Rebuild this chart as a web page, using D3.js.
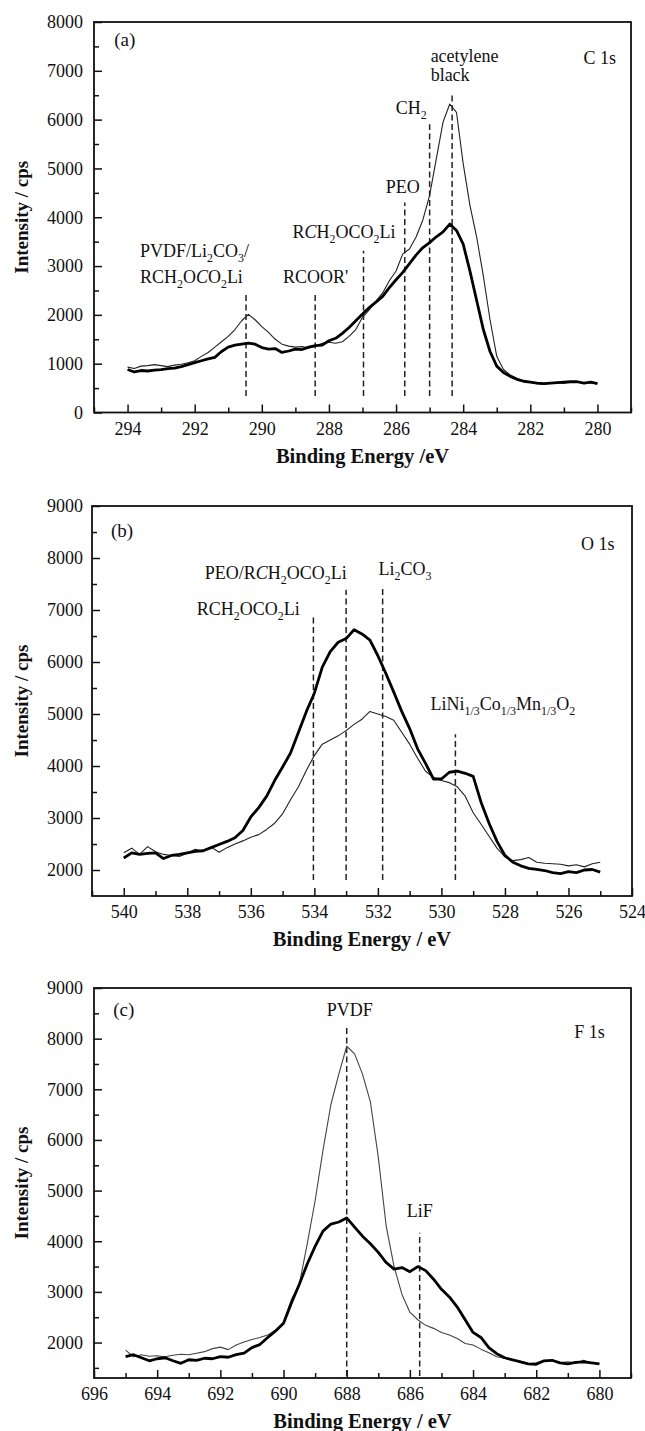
<!DOCTYPE html>
<html>
<head>
<meta charset="utf-8">
<script src="https://cdn.jsdelivr.net/npm/d3@7"></script>
<style>
  html, body { margin: 0; padding: 0; background: #fff; }
  svg { display: block; }
  text { font-family: "Liberation Serif", "Times New Roman", serif; fill: #111; }
</style>
</head>
<body>
<svg id="fig" width="645" height="1431"></svg>
<script>
// ---------- C 1s spectra ----------
const c1sEnergy = [294.0, 293.8, 293.6, 293.4, 293.2, 293.0, 292.8, 292.6, 292.4, 292.2,
  292.0, 291.8, 291.6, 291.4, 291.2, 291.0, 290.8, 290.6, 290.4, 290.2,
  290.0, 289.8, 289.6, 289.4, 289.2, 289.0, 288.8, 288.6, 288.4, 288.2,
  288.0, 287.8, 287.6, 287.4, 287.2, 287.0, 286.8, 286.6, 286.4, 286.2,
  286.0, 285.8, 285.6, 285.4, 285.2, 285.0, 284.8, 284.6, 284.4, 284.2,
  284.0, 283.8, 283.6, 283.4, 283.2, 283.0, 282.8, 282.6, 282.4, 282.2,
  282.0, 281.8, 281.6, 281.4, 281.2, 281.0, 280.8, 280.6, 280.4, 280.2, 280.0];
const c1sLight = [930, 900, 950, 960, 980, 960, 940, 970, 990, 1020,
  1060, 1150, 1230, 1340, 1450, 1560, 1700, 1880, 2010, 1900,
  1760, 1640, 1500, 1400, 1360, 1340, 1350, 1320, 1360, 1420,
  1440, 1420, 1450, 1560, 1700, 1950, 2100, 2280, 2450, 2700,
  2900, 3250, 3350, 3600, 3950, 4450, 5200, 5950, 6320, 6150,
  5100, 4250, 3600, 2800, 1900, 1150, 880, 770, 700, 650,
  620, 590, 580, 600, 620, 600, 630, 620, 600, 610, 600];
const c1sBold = [880, 830, 860, 850, 870, 880, 900, 910, 940, 980,
  1020, 1060, 1100, 1130, 1250, 1340, 1380, 1400, 1420, 1400,
  1330, 1300, 1310, 1230, 1260, 1300, 1290, 1340, 1370, 1380,
  1470, 1520, 1620, 1740, 1880, 2020, 2150, 2260, 2380, 2560,
  2720, 2870, 3050, 3230, 3380, 3480, 3600, 3700, 3860, 3730,
  3450, 2900, 2300, 1700, 1250, 950, 820, 740, 680, 640,
  620, 600, 590, 600, 610, 620, 630, 630, 600, 620, 590];
const c1sMajorTicks = [294, 292, 290, 288, 286, 284, 282, 280];
const c1sYTicks = [0, 1000, 2000, 3000, 4000, 5000, 6000, 7000, 8000];
// peak assignments: energy, top of marker (cps)
const c1sPeaks = [[290.47, 2430], [288.41, 2460], [286.97, 3316], [285.74, 4300], [285.0, 5904], [284.33, 6530]];

// ---------- O 1s spectra ----------
const o1sEnergy = [540.00, 539.75, 539.50, 539.25, 539.00, 538.75, 538.50, 538.25, 538.00, 537.75,
  537.50, 537.25, 537.00, 536.75, 536.50, 536.25, 536.00, 535.75, 535.50, 535.25,
  535.00, 534.75, 534.50, 534.25, 534.00, 533.75, 533.50, 533.25, 533.00, 532.75,
  532.50, 532.25, 532.00, 531.75, 531.50, 531.25, 531.00, 530.75, 530.50, 530.25,
  530.00, 529.75, 529.50, 529.25, 529.00, 528.75, 528.50, 528.25, 528.00, 527.75,
  527.50, 527.25, 527.00, 526.75, 526.50, 526.25, 526.00, 525.75, 525.50, 525.25, 525.00];
const o1sLight = [2330, 2420, 2300, 2450, 2350, 2300, 2280, 2260, 2320, 2400,
  2360, 2440, 2340, 2430, 2500, 2560, 2630, 2680, 2780, 2900,
  3080, 3350, 3600, 3920, 4200, 4420, 4500, 4580, 4680, 4800,
  4900, 5050, 5000, 4950, 4880, 4650, 4420, 4150, 3900, 3780,
  3720, 3680, 3600, 3420, 3100, 2880, 2650, 2420, 2250, 2180,
  2200, 2240, 2150, 2130, 2120, 2110, 2080, 2100, 2060, 2120, 2150];
const o1sBold = [2230, 2330, 2300, 2320, 2330, 2220, 2280, 2300, 2330, 2360,
  2370, 2430, 2490, 2550, 2620, 2760, 3020, 3200, 3420, 3720,
  3980, 4250, 4650, 5050, 5400, 5900, 6200, 6380, 6450, 6620,
  6540, 6420, 6120, 5780, 5420, 5050, 4720, 4330, 4050, 3750,
  3750, 3880, 3900, 3860, 3800, 3300, 2900, 2550, 2280, 2150,
  2080, 2030, 2010, 1990, 1950, 1930, 1970, 1950, 2000, 2010, 1960];
const o1sMajorTicks = [540, 538, 536, 534, 532, 530, 528, 526, 524];
const o1sYTicks = [2000, 3000, 4000, 5000, 6000, 7000, 8000, 9000];
const o1sPeaks = [[534.03, 6876], [533.0, 7391], [531.85, 7423], [529.56, 4609]];

// ---------- F 1s spectra ----------
const f1sEnergy = [695.00, 694.75, 694.50, 694.25, 694.00, 693.75, 693.50, 693.25, 693.00, 692.75,
  692.50, 692.25, 692.00, 691.75, 691.50, 691.25, 691.00, 690.75, 690.50, 690.25,
  690.00, 689.75, 689.50, 689.25, 689.00, 688.75, 688.50, 688.25, 688.00, 687.75,
  687.50, 687.25, 687.00, 686.75, 686.50, 686.25, 686.00, 685.75, 685.50, 685.25,
  685.00, 684.75, 684.50, 684.25, 684.00, 683.75, 683.50, 683.25, 683.00, 682.75,
  682.50, 682.25, 682.00, 681.75, 681.50, 681.25, 681.00, 680.75, 680.50, 680.25, 680.00];
const f1sLight = [1850, 1720, 1760, 1730, 1740, 1720, 1750, 1770, 1760, 1790,
  1820, 1880, 1910, 1860, 1950, 2010, 2060, 2100, 2150, 2245,
  2400, 2850, 3150, 3950, 4800, 5800, 6700, 7300, 7850, 7700,
  7300, 6750, 5660, 4300, 3500, 2950, 2600, 2450, 2340, 2280,
  2200, 2150, 2080, 1980, 1950, 1870, 1800, 1720, 1690, 1640,
  1630, 1580, 1600, 1650, 1640, 1600, 1620, 1590, 1650, 1600, 1580];
const f1sBold = [1720, 1760, 1700, 1640, 1680, 1700, 1640, 1590, 1660, 1650,
  1690, 1680, 1720, 1710, 1760, 1790, 1900, 1960, 2100, 2230,
  2380, 2780, 3150, 3550, 3900, 4200, 4340, 4380, 4460, 4280,
  4100, 3950, 3780, 3580, 3450, 3480, 3400, 3500, 3420, 3250,
  3050, 2900, 2700, 2450, 2200, 2100, 1900, 1780, 1700, 1660,
  1620, 1580, 1570, 1640, 1650, 1600, 1580, 1610, 1620, 1600, 1580];
const f1sMajorTicks = [696, 694, 692, 690, 688, 686, 684, 682, 680];
const f1sYTicks = [2000, 3000, 4000, 5000, 6000, 7000, 8000, 9000];
const f1sPeaks = [[688.0, 8273], [685.69, 4166]];

// ---------- layout ----------
const svg = d3.select('#fig');
const LABEL_SIZE = 18;

// simple markup: _{..} subscript, *..* italic
function richText(sel, str, size) {
  const parts = str.split(/(_\{[^}]*\}|\*[^*]*\*)/).filter(s => s.length);
  let shift = 0;
  const drop = size * 0.3;
  parts.forEach(p => {
    const t = sel.append('tspan');
    if (p.startsWith('_{')) {
      t.text(p.slice(2, -1)).attr('font-size', size * 0.66).attr('dy', drop - shift);
      shift = drop;
    } else {
      let txt = p, italic = false;
      if (p.length > 1 && p.startsWith('*') && p.endsWith('*')) { txt = p.slice(1, -1); italic = true; }
      t.text(txt).attr('dy', -shift);
      shift = 0;
      if (italic) t.attr('font-style', 'italic');
    }
  });
}

function drawPanel(cfg) {
  const x = d3.scaleLinear().domain(cfg.xDomain).range([cfg.left, cfg.right]);
  const y = d3.scaleLinear().domain(cfg.yDomain).range([cfg.bottom, cfg.top]);
  const g = svg.append('g');

  const xMinor = d3.range(Math.ceil(Math.min(...cfg.xDomain)), Math.floor(Math.max(...cfg.xDomain)) + 1)
    .filter(v => !cfg.xMajor.includes(v));
  const yMinor = d3.range(Math.ceil(cfg.yDomain[0] / 500) * 500, cfg.yDomain[1] + 1, 500)
    .filter(v => !cfg.yMajor.includes(v) && v > cfg.yDomain[0]);

  const styleAxis = a => {
    a.select('.domain').remove();
    a.selectAll('line').attr('stroke', '#111').attr('stroke-width', 1.5);
    a.selectAll('text').attr('font-size', LABEL_SIZE).attr('fill', '#111')
      .attr('font-family', '"Liberation Serif","Times New Roman",serif');
  };

  g.append('g').attr('transform', `translate(0,${cfg.bottom})`)
    .call(d3.axisBottom(x).tickValues(xMinor).tickSize(-5).tickFormat(''))
    .call(styleAxis);
  g.append('g').attr('transform', `translate(0,${cfg.bottom})`)
    .call(d3.axisBottom(x).tickValues(cfg.xMajor).tickSize(-8).tickPadding(9.5).tickFormat(d3.format('d')))
    .call(styleAxis);
  g.append('g').attr('transform', `translate(${cfg.left},0)`)
    .call(d3.axisLeft(y).tickValues(yMinor).tickSize(-5).tickFormat(''))
    .call(styleAxis);
  g.append('g').attr('transform', `translate(${cfg.left},0)`)
    .call(d3.axisLeft(y).tickValues(cfg.yMajor).tickSize(-8).tickPadding(cfg.left - 83).tickFormat(d3.format('d')))
    .call(styleAxis);

  // peak marker lines
  g.append('g').selectAll('line').data(cfg.peaks).join('line')
    .attr('x1', d => x(d[0])).attr('x2', d => x(d[0]))
    .attr('y1', y(cfg.markerBase)).attr('y2', d => y(d[1]))
    .attr('stroke', '#222').attr('stroke-width', 1.5).attr('stroke-dasharray', '6,3.5');

  // spectra
  const line = d3.line().x(d => x(d[0])).y(d => y(d[1]));
  const lightPts = cfg.energy.map((e, i) => [e, cfg.light[i]]);
  const boldPts = cfg.energy.map((e, i) => [e, cfg.bold[i]]);
  g.append('path').datum(lightPts).attr('d', line)
    .attr('fill', 'none').attr('stroke', cfg.lightColor).attr('stroke-width', 1.1).attr('stroke-linejoin', 'round');
  g.append('path').datum(boldPts).attr('d', line)
    .attr('fill', 'none').attr('stroke', '#000').attr('stroke-width', 2.8).attr('stroke-linejoin', 'round');

  // frame
  g.append('rect').attr('x', cfg.left).attr('y', cfg.top)
    .attr('width', cfg.right - cfg.left).attr('height', cfg.bottom - cfg.top)
    .attr('fill', 'none').attr('stroke', '#111').attr('stroke-width', 1.8);

  // annotations
  cfg.labels.forEach(l => {
    const t = g.append('text')
      .attr('x', x(l.e)).attr('y', l.py)
      .attr('text-anchor', l.anchor || 'middle')
      .attr('font-size', l.size || LABEL_SIZE);
    richText(t, l.text, l.size || LABEL_SIZE);
  });

  // axis titles
  g.append('text').attr('x', (cfg.left + cfg.right) / 2).attr('y', cfg.bottom + 50)
    .attr('text-anchor', 'middle').attr('font-size', 20.5).attr('font-weight', 'bold')
    .text(cfg.xTitle);
  g.append('text')
    .attr('transform', `translate(28,${(cfg.top + cfg.bottom) / 2}) rotate(-90)`)
    .attr('text-anchor', 'middle').attr('font-size', 19).attr('font-weight', 'bold')
    .text('Intensity / cps');
}

drawPanel({
  left: 94, right: 631, top: 22, bottom: 412.5,
  xDomain: [295, 279], yDomain: [0, 8000],
  xMajor: c1sMajorTicks, yMajor: c1sYTicks,
  energy: c1sEnergy, light: c1sLight, bold: c1sBold, lightColor: '#222',
  peaks: c1sPeaks, markerBase: 340,
  xTitle: 'Binding Energy /eV',
  labels: [
    { e: 294.4, py: 46, anchor: 'start', text: '(a)', size: 19 },
    { e: 279.45, py: 64, anchor: 'end', text: 'C 1s' },
    { e: 284.97, py: 62, anchor: 'start', text: 'acetylene' },
    { e: 284.97, py: 81, anchor: 'start', text: 'black' },
    { e: 285.55, py: 114, text: 'CH_{2}' },
    { e: 285.8, py: 193, text: 'PEO' },
    { e: 287.55, py: 238, text: 'R*C*H_{2}OCO_{2}Li' },
    { e: 293.63, py: 257, anchor: 'start', text: 'PVDF/Li_{2}CO_{3}/' },
    { e: 293.63, py: 283, anchor: 'start', text: 'RCH_{2}O*C*O_{2}Li' },
    { e: 288.4, py: 283, text: "RCOOR'" }
  ]
});

drawPanel({
  left: 92, right: 632, top: 506, bottom: 896,
  xDomain: [541, 524], yDomain: [1500, 9000],
  xMajor: o1sMajorTicks, yMajor: o1sYTicks,
  energy: o1sEnergy, light: o1sLight, bold: o1sBold, lightColor: '#222',
  peaks: o1sPeaks, markerBase: 1810,
  xTitle: 'Binding Energy / eV',
  labels: [
    { e: 540.4, py: 537, anchor: 'start', text: '(b)', size: 19 },
    { e: 524.55, py: 550, anchor: 'end', text: 'O 1s' },
    { e: 537.45, py: 579, anchor: 'start', text: 'PEO/R*C*H_{2}OCO_{2}Li' },
    { e: 531.98, py: 575, anchor: 'start', text: 'Li_{2}CO_{3}' },
    { e: 537.7, py: 615, anchor: 'start', text: 'RCH_{2}OCO_{2}Li' },
    { e: 530.34, py: 710, anchor: 'start', text: 'LiNi_{1/3}Co_{1/3}Mn_{1/3}O_{2}' }
  ]
});

drawPanel({
  left: 94, right: 631, top: 988, bottom: 1378,
  xDomain: [696, 679], yDomain: [1300, 9000],
  xMajor: f1sMajorTicks, yMajor: f1sYTicks,
  energy: f1sEnergy, light: f1sLight, bold: f1sBold, lightColor: '#444',
  peaks: f1sPeaks, markerBase: 1340,
  xTitle: 'Binding Energy / eV',
  labels: [
    { e: 695.39, py: 1016, anchor: 'start', text: '(c)', size: 19 },
    { e: 687.9, py: 1016, text: 'PVDF' },
    { e: 679.83, py: 1038, anchor: 'end', text: 'F 1s' },
    { e: 685.69, py: 1217, text: 'LiF' }
  ]
});
</script>
</body>
</html>
